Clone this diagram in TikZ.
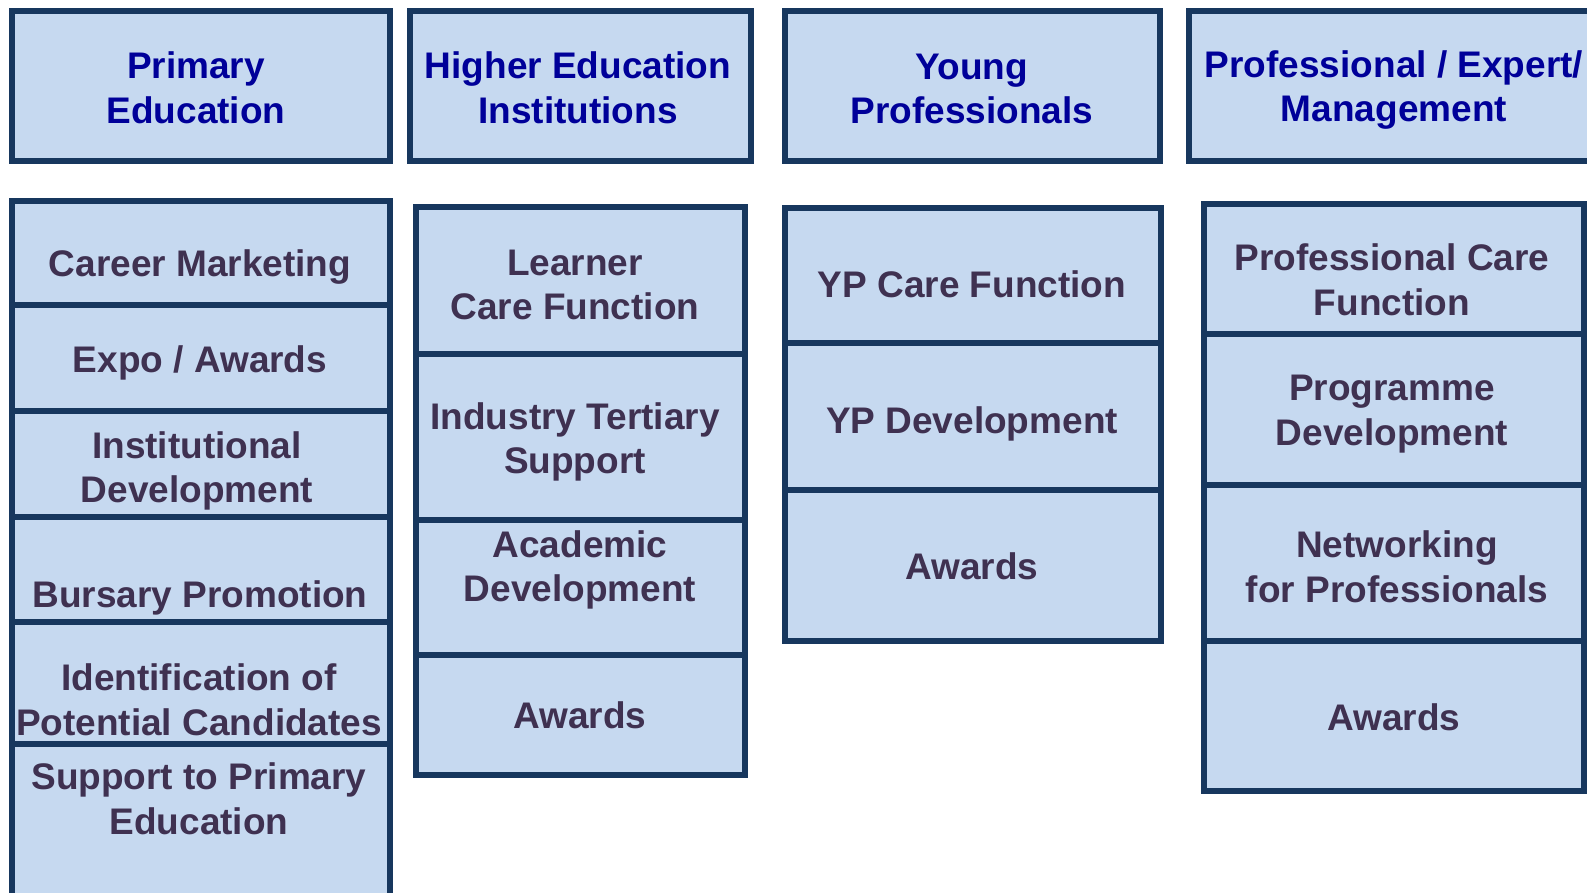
\documentclass[tikz,border=0pt]{standalone}
\usepackage{fontspec}
\setmainfont{Liberation Sans}
\definecolor{cellfill}{HTML}{C6D9F0}
\definecolor{cellline}{HTML}{17375E}
\definecolor{headtext}{HTML}{000099}
\definecolor{itemtext}{HTML}{3F3151}

\begin{document}
\begin{tikzpicture}[x=0.5pt,y=-0.5pt,
  cell/.style={draw=cellline,fill=cellfill,line width=3pt},
  head/.style={text=headtext,font=\fontsize{18.5}{22.3}\selectfont\bfseries,align=center,inner sep=0pt},
  item/.style={head,text=itemtext}]
\useasboundingbox (0,0) rectangle (1587,893);
\clip (0,0) rectangle (1587,893);
% header row
\draw[cell] (12,11) rectangle (390,161);
\draw[cell] (410,11) rectangle (751,161);
\draw[cell] (785,11) rectangle (1160,161);
\draw[cell] (1189,11) rectangle (1600,161);
% stacked cells, one column at a time
\foreach \t/\b in {201/305,305/411,411/517,517/622,622/744,744/910}
  \draw[cell] (12,\t) rectangle (390,\b);
\foreach \t/\b in {207/354,354/520,520/655,655/775}
  \draw[cell] (416,\t) rectangle (745,\b);
\foreach \t/\b in {208/343,343/490,490/641}
  \draw[cell] (785,\t) rectangle (1161,\b);
\foreach \t/\b in {204/334,334/485,485/641,641/791}
  \draw[cell] (1204,\t) rectangle (1584,\b);
% headings
\node[head] (prim) at (196,88) {Primary\\Education};
\node[head] (hei) at (578,88) {Higher Education\\Institutions};
\node[head] (young) at (972,89) {Young\\Professionals};
\node[head] (prof) at (1394,90) {Professional / Expert/\\Management};
% primary education
\node[item] (career) at (200,267) {Career Marketing};
\node[item] (expo) at (200,363) {Expo / Awards};
\node[item] (instdev) at (197,471) {Institutional\\Development};
\node[item] (bursary) at (200,598) {Bursary Promotion};
\node[item] (ident) at (199,700) {Identification of\\Potential Candidates};
\node[item] (support) at (199,799) {Support to Primary\\Education};
% higher education
\node[item] (learner) at (575,285) {Learner\\Care Function};
\node[item] (industry) at (575,442) {Industry Tertiary\\Support};
\node[item] (academic) at (580,570) {Academic\\Development};
\node[item] (heiaw) at (580,715) {Awards};
% young professionals
\node[item] (ypcare) at (972,284) {YP Care Function};
\node[item] (ypdev) at (972,424) {YP Development};
\node[item] (ypaw) at (972,566) {Awards};
% professionals
\node[item] (profcare) at (1392,280) {Professional Care\\Function};
\node[item] (progdev) at (1392,414) {Programme\\Development};
\node[item] (network) at (1397,567) {Networking\\for Professionals};
\node[item] (profaw) at (1394,717) {Awards};
\end{tikzpicture}
\end{document}
